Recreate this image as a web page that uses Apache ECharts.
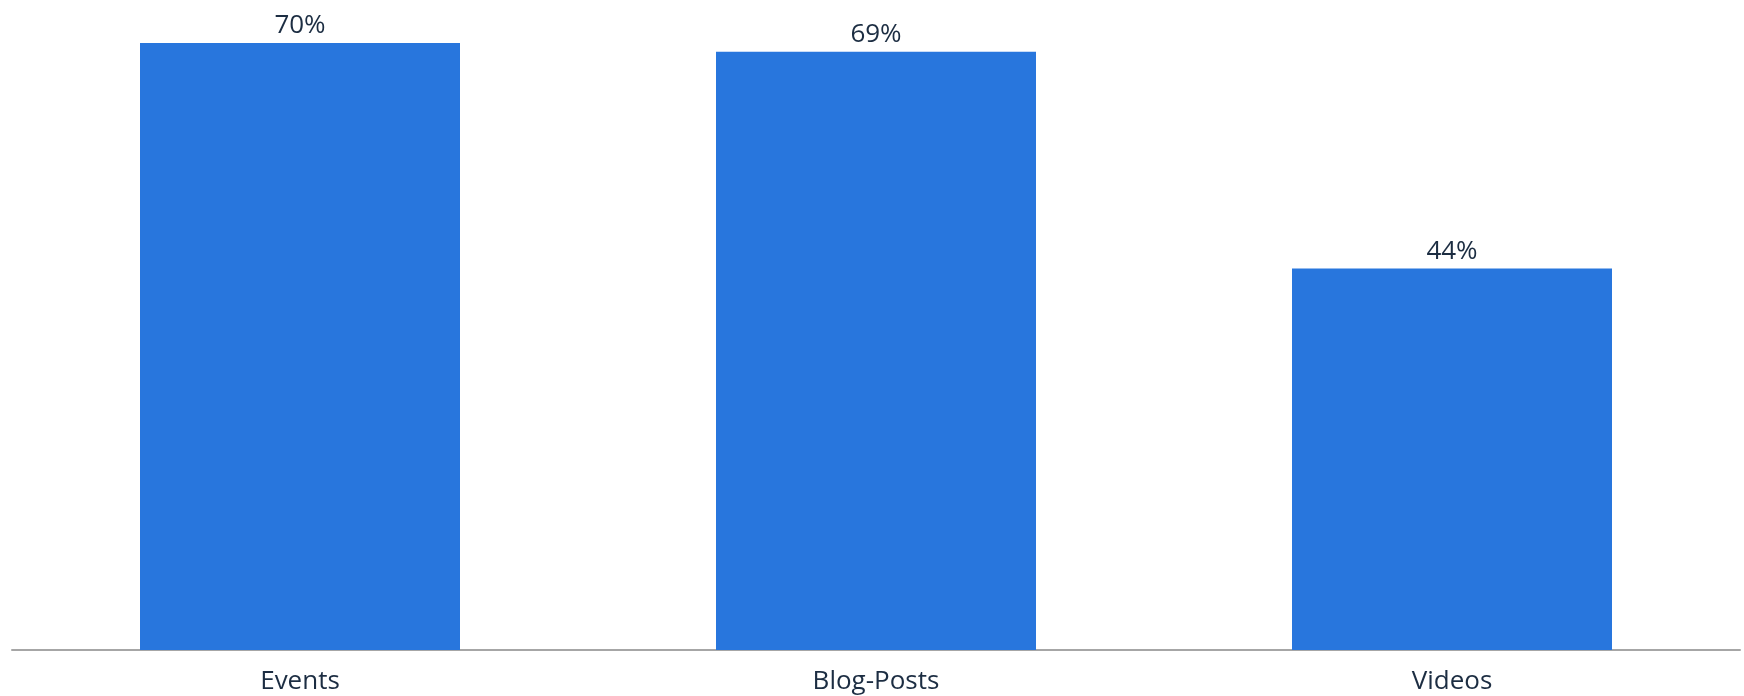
<!DOCTYPE html>
<html>
<head>
<meta charset="utf-8">
<script src="https://cdn.jsdelivr.net/npm/echarts@6/dist/echarts.min.js"></script>
<style>
  html, body { margin: 0; padding: 0; background: #ffffff; }
  #chart { width: 1744px; height: 696px; }
</style>
</head>
<body>
<div id="chart"></div>
<script>
// ── Data ──────────────────────────────────────────────
const categories = ['Events', 'Blog-Posts', 'Videos'];
const shares = [70, 69, 44];

// ── Style ─────────────────────────────────────────────
const fontFamily = '"Open Sans", "Noto Sans", sans-serif';
const barColor = '#2876dd';
const textColor = '#1c2d42';
const axisColor = '#a6a6a6';

const chart = echarts.init(document.getElementById('chart'), null, { renderer: 'canvas' });
chart.setOption({
  animation: false,
  grid: { left: 12, right: 4, top: 43, bottom: 46, containLabel: false },
  xAxis: {
    type: 'category',
    data: categories,
    axisLine: { lineStyle: { color: axisColor, width: 2 } },
    axisTick: { show: false },
    axisLabel: { fontFamily, fontSize: 26, color: textColor, margin: 19 }
  },
  yAxis: {
    type: 'value',
    min: 0,
    max: 70,
    show: false,
    splitLine: { show: false }
  },
  series: [{
    type: 'bar',
    data: shares,
    barWidth: 320,
    itemStyle: { color: barColor },
    label: {
      show: true,
      position: 'top',
      distance: 4,
      formatter: '{c}%',
      fontFamily,
      fontSize: 26,
      color: textColor
    }
  }]
});
</script>
</body>
</html>
